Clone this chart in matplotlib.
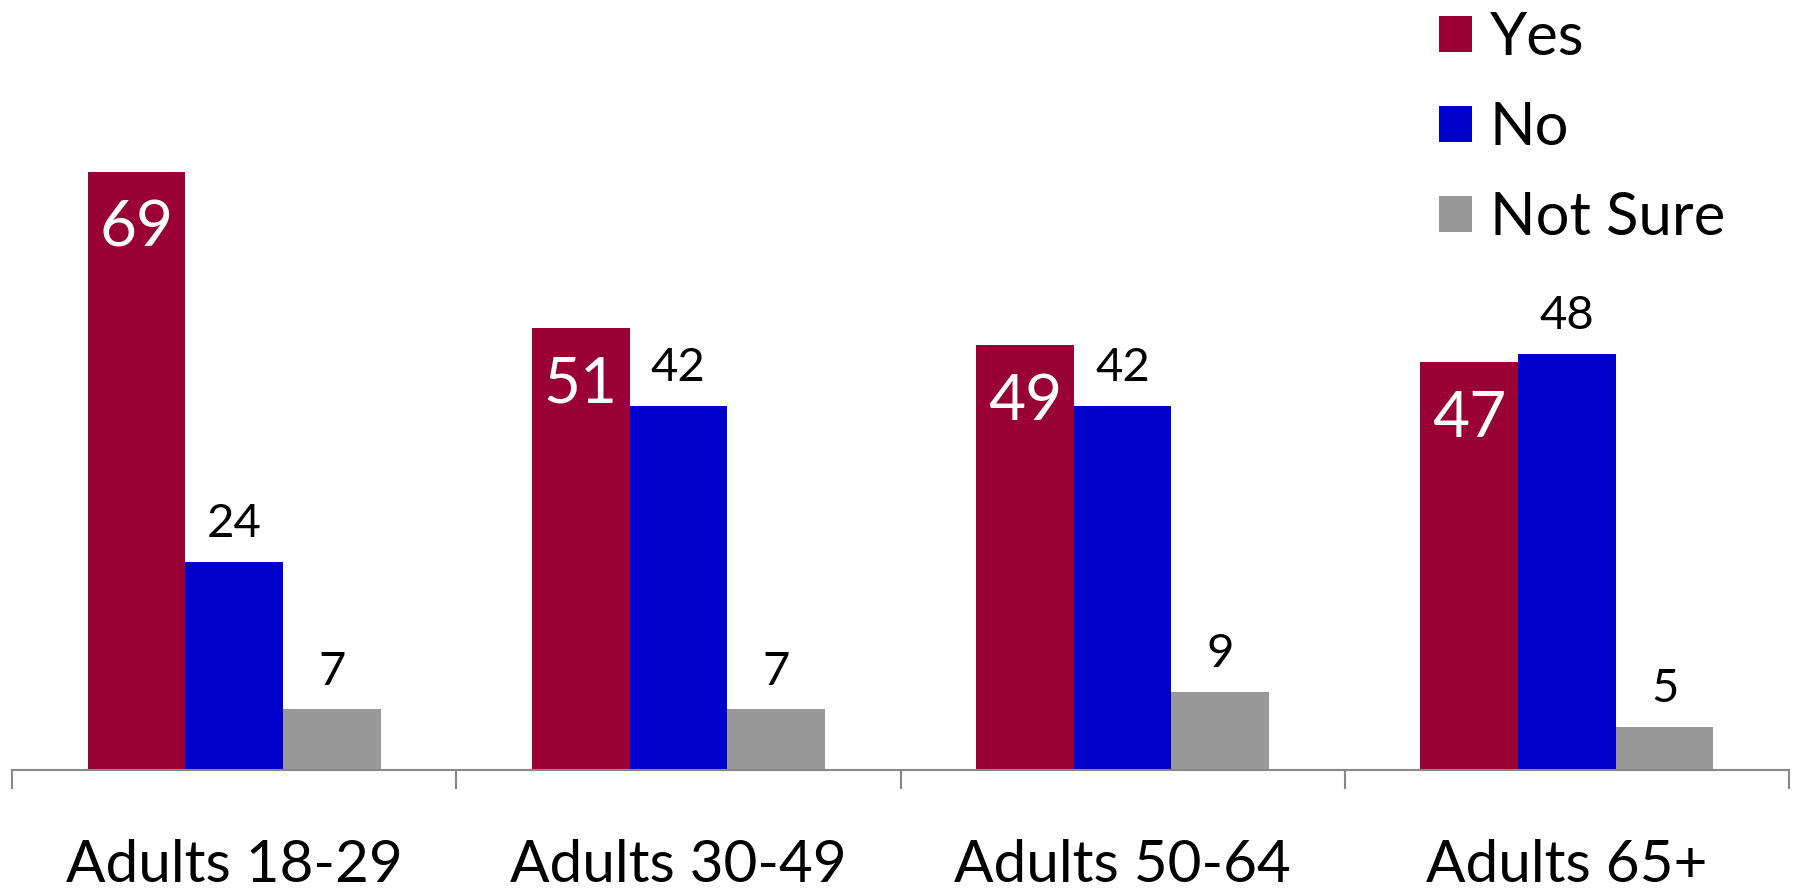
import numpy as np
import matplotlib.pyplot as plt
from matplotlib.patches import Patch

plt.rcParams['font.family'] = ['Lato', 'DejaVu Sans']

# data
groups = ['Adults 18-29', 'Adults 30-49', 'Adults 50-64', 'Adults 65+']
series = ['Yes', 'No', 'Not Sure']
yes = [69, 51, 49, 47]
no = [24, 42, 42, 48]
not_sure = [7, 7, 9, 5]
colors = ['#990033', '#0000CC', '#999999']

fig = plt.figure(figsize=(17.97, 8.92), dpi=100)
ax = fig.add_axes([12 / 1797, 122 / 892, 1777 / 1797, 770 / 892])

x = np.arange(len(groups))
w = 0.22
for i, (vals, col) in enumerate(zip([yes, no, not_sure], colors)):
    pos = x + (i - 1) * w
    ax.bar(pos, vals, width=w, color=col, edgecolor='none', zorder=2)
    for p, v in zip(pos, vals):
        if i == 0:
            # white label inside the Yes bars
            ax.annotate(str(v), (p, v), xytext=(0, -20), textcoords='offset points',
                        ha='center', va='top', color='white', fontsize=46)
        else:
            ax.annotate(str(v), (p, v), xytext=(0, 12), textcoords='offset points',
                        ha='center', va='bottom', color='black', fontsize=34)

ax.set_xlim(-0.5, len(groups) - 0.5)
ax.set_ylim(0, 88.8)

# axis styling
for s in ['top', 'right', 'left']:
    ax.spines[s].set_visible(False)
ax.spines['bottom'].set_color('#888888')
ax.spines['bottom'].set_linewidth(1.5)
ax.set_yticks([])
ax.set_xticks(x)
ax.set_xticklabels(groups, fontsize=42)
ax.tick_params(axis='x', which='major', length=0, pad=50)
ax.set_xticks(np.arange(-0.5, len(groups), 1), minor=True)
ax.tick_params(axis='x', which='minor', length=14, width=1.5, color='#888888')

handles = [Patch(facecolor=c, edgecolor='none') for c in colors]
leg = ax.legend(handles, series, loc='upper left',
                bbox_to_anchor=(1439 / 1797, 1 - 11 / 892),
                bbox_transform=fig.transFigure, frameon=False, fontsize=43,
                handlelength=0.55, handleheight=0.55, handletextpad=0.3,
                labelspacing=0.6, borderaxespad=0, borderpad=0)

fig.savefig('out.png', dpi=100)
